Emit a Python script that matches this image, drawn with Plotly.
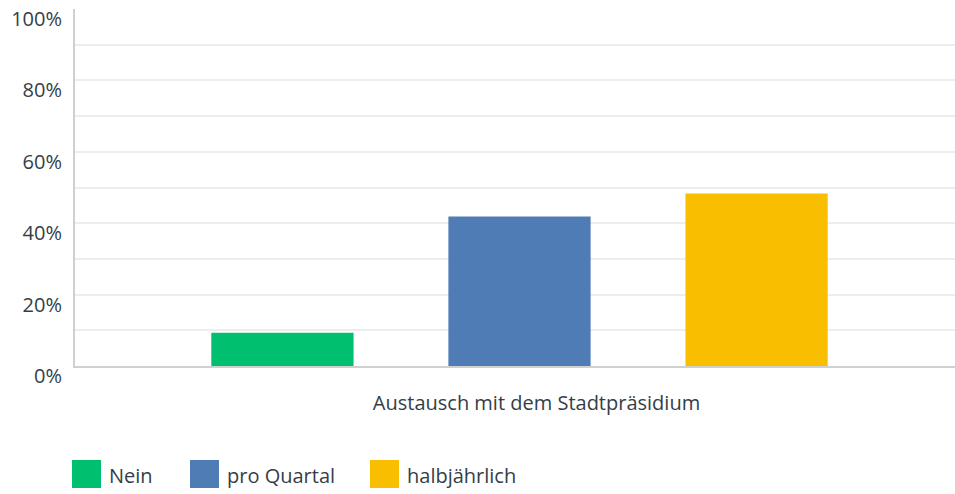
import plotly.graph_objects as go

categories = ["Austausch mit dem Stadtpräsidium"]
series_names = ["Nein", "pro Quartal", "halbjährlich"]
series_values = [[9.3], [41.9], [48.3]]
series_colors = ["#00BF6F", "#507CB6", "#F9BE00"]
y_tick_vals = [0, 20, 40, 60, 80, 100]
y_tick_text = ["0%", "20%", "40%", "60%", "80%", "100%"]

FONT = "Open Sans"
TEXT_COLOR = "#333E48"
FS = 20

fig = go.Figure()
for name, vals, col in zip(series_names, series_values, series_colors):
    fig.add_trace(go.Bar(x=categories, y=vals, name=name, marker_color=col,
                         marker_line_width=0, hoverinfo="y+name"))

fig.update_layout(
    width=955, height=494,
    margin=dict(l=75, r=0, t=9, b=128, autoexpand=False),
    paper_bgcolor="white", plot_bgcolor="white",
    barmode="group", bargap=0.2, bargroupgap=0.4,
    showlegend=False,
    font=dict(family=FONT, color=TEXT_COLOR, size=FS),
)
fig.update_xaxes(
    range=[-0.5, -0.5 + 880 / 889], automargin=False,
    showgrid=False, showline=True, linecolor="#D0D0D0", linewidth=2,
    ticks="", tickfont=dict(size=FS, color=TEXT_COLOR),
    ticklabelshift=17, ticklabelstandoff=18,
)
fig.update_yaxes(
    range=[0, 100.0001], tickvals=y_tick_vals, ticktext=y_tick_text, automargin=False,
    showgrid=True, gridcolor="#EDEDED", gridwidth=2,
    minor=dict(dtick=10, showgrid=True, gridcolor="#EDEDED", gridwidth=2),
    showline=True, linecolor="#D0D0D0", linewidth=2,
    zeroline=False, ticks="",
    tickfont=dict(size=FS, color=TEXT_COLOR),
    ticklabelshift=10, ticklabelstandoff=7,
)

# custom legend with large swatches (pixel positions converted to paper coords)
legend_x = [72, 190, 370]
for name, col, x0 in zip(series_names, series_colors, legend_x):
    x1, y0, y1 = x0 + 29, 460, 488
    fig.add_shape(type="rect", xref="paper", yref="paper",
                  x0=(x0 - 75) / 880, x1=(x1 - 75) / 880,
                  y0=(366 - y1) / 357, y1=(366 - y0) / 357,
                  fillcolor=col, line=dict(width=0), layer="above")
    fig.add_annotation(xref="paper", yref="paper",
                       x=(x1 + 6 - 75) / 880, y=(366 - 475) / 357,
                       text=name, showarrow=False, xanchor="left", yanchor="middle",
                       font=dict(size=FS, color=TEXT_COLOR, family=FONT))

fig.write_html(
    "out.html",
    config={"displayModeBar": False},
    post_script="document.body.style.margin='0';document.body.style.overflow='hidden';",
)
